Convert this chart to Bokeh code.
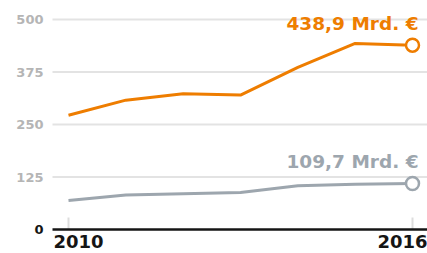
from bokeh.plotting import figure
from bokeh.models import Range1d, ColumnDataSource
from bokeh.core.properties import value
from bokeh.embed import file_html
from bokeh.resources import INLINE

years = [2010, 2011, 2012, 2013, 2014, 2015, 2016]
orange_vals = [272, 308, 323, 320, 386, 443, 438.9]
gray_vals = [69, 82, 85, 88, 104, 108, 109.7]
y_ticks = [0, 125, 250, 375, 500]
y_tick_labels = ["0", "125", "250", "375", "500"]
x_label_years = [2010, 2016]
x_tick_labels = ["2010", "2016"]
orange_label = "438,9 Mrd. €"
gray_label = "109,7 Mrd. €"

ORANGE = "#EE7D00"
GRAY_LINE = "#9DA6AE"
TICK_GRAY = "#B5B5B5"
DARK = "#151515"
FONT = "DejaVu Sans"

W, H = 427, 253
# pixel layout of the plotting area inside the canvas
PX_LEFT, PX_TOP, PX_BOTTOM = 52, 19, 229
PX_X0, PX_X1 = 68, 412          # pixel of first / last year

px_per_year = (PX_X1 - PX_X0) / (years[-1] - years[0])
px_per_unit = (PX_BOTTOM - PX_TOP) / (y_ticks[-1] - y_ticks[0])
x_start = years[0] - PX_X0 / px_per_year
x_end = years[-1] + (W - PX_X1) / px_per_year
y_end = y_ticks[-1] + PX_TOP / px_per_unit
y_start = y_ticks[0] - (H - PX_BOTTOM) / px_per_unit
plot_left = years[0] - (PX_X0 - PX_LEFT) / px_per_year

p = figure(width=W, height=H, output_backend="svg", toolbar_location=None,
           x_range=Range1d(x_start, x_end), y_range=Range1d(y_start, y_end),
           min_border=0)
p.axis.visible = False
p.grid.visible = False
p.outline_line_color = None
p.background_fill_color = "white"
p.border_fill_color = "white"

# horizontal grid lines (except 0, which is the axis line)
grid_src = ColumnDataSource(dict(
    x0=[plot_left] * (len(y_ticks) - 1), x1=[x_end] * (len(y_ticks) - 1),
    y=y_ticks[1:]))
p.segment(x0="x0", x1="x1", y0="y", y1="y", source=grid_src,
          line_color="#E3E3E3", line_width=2)

# small vertical ticks at labelled years
tick_len = 12 / px_per_unit
p.segment(x0=x_label_years, x1=x_label_years, y0=[0] * len(x_label_years),
          y1=[tick_len] * len(x_label_years), line_color="#DDDDDD", line_width=2)

# y tick labels
ylab_src = ColumnDataSource(dict(
    x=[plot_left] * len(y_ticks), y=y_ticks, t=y_tick_labels,
    c=[DARK] + [TICK_GRAY] * (len(y_ticks) - 1)))
p.text(x="x", y="y", text="t", source=ylab_src, text_color="c",
       x_offset=-9, text_align="right", text_baseline="middle",
       text_font=value(FONT), text_font_style="bold",
       text_font_size=value("13px"))

# lines
src = ColumnDataSource(dict(x=years, o=orange_vals, g=gray_vals))
p.line("x", "g", source=src, line_color=GRAY_LINE, line_width=3)
p.line("x", "o", source=src, line_color=ORANGE, line_width=3)

# axis line at 0
p.segment(x0=[plot_left], x1=[x_end], y0=[y_ticks[0]], y1=[y_ticks[0]],
          line_color=DARK, line_width=2.5)

# year labels
p.text(x=[x_label_years[0]], y=[y_ticks[0]], text=[x_tick_labels[0]],
       x_offset=-15, y_offset=12, text_align="left", text_baseline="middle",
       text_color=DARK, text_font=value(FONT), text_font_style="bold",
       text_font_size=value("18px"))
p.text(x=[x_label_years[1]], y=[y_ticks[0]], text=[x_tick_labels[1]],
       x_offset=15, y_offset=12, text_align="right", text_baseline="middle",
       text_color=DARK, text_font=value(FONT), text_font_style="bold",
       text_font_size=value("18px"))

# end markers
p.scatter([years[-1]], [gray_vals[-1]], size=13, fill_color="white",
          line_color=GRAY_LINE, line_width=2.5)
p.scatter([years[-1]], [orange_vals[-1]], size=13, fill_color="white",
          line_color=ORANGE, line_width=2.5)

# value annotations
p.text(x=[years[-1]], y=[orange_vals[-1]], text=[orange_label],
       x_offset=6, y_offset=-22, text_align="right", text_baseline="middle",
       text_color=ORANGE, text_font=value(FONT), text_font_style="bold",
       text_font_size=value("18.5px"))
p.text(x=[years[-1]], y=[gray_vals[-1]], text=[gray_label],
       x_offset=6, y_offset=-22, text_align="right", text_baseline="middle",
       text_color=GRAY_LINE, text_font=value(FONT), text_font_style="bold",
       text_font_size=value("18.5px"))

open("out.html", "w").write(file_html(p, INLINE))
